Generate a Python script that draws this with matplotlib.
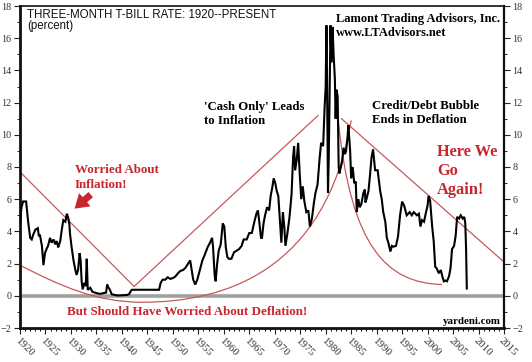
import matplotlib
matplotlib.use('Agg')
import matplotlib.pyplot as plt
from matplotlib.path import Path
from matplotlib.patches import PathPatch
from matplotlib.ticker import MultipleLocator

# ---- data: three-month T-bill rate (percent) ----
years = [1920.0, 1920.3, 1920.6, 1921.2, 1921.6, 1922.0, 1922.3, 1922.6, 1923.0, 1923.5,
         1923.7, 1923.9, 1924.3, 1924.6, 1924.9, 1925.2, 1925.5, 1925.9, 1926.2, 1926.6,
         1926.9, 1927.2, 1927.5, 1927.9, 1928.2, 1928.5, 1928.9, 1929.2, 1929.5, 1929.7,
         1929.8, 1930.1, 1930.5, 1930.8, 1931.1, 1931.4, 1931.7, 1931.9, 1932.1, 1932.3,
         1932.6, 1932.9, 1933.1, 1933.3, 1933.8, 1934.2, 1934.7, 1935.2, 1935.8, 1936.4,
         1936.9, 1937.1, 1937.3, 1937.6, 1938.0, 1938.6, 1939.2, 1939.8, 1940.5, 1941.0,
         1941.4, 1941.9, 1942.5, 1944.0, 1945.5, 1947.3, 1947.6, 1948.0, 1948.5, 1949.0,
         1949.5, 1950.0, 1950.5, 1951.0, 1951.5, 1952.0, 1952.5, 1953.0, 1953.4, 1953.7,
         1954.0, 1954.4, 1954.8, 1955.3, 1955.8, 1956.2, 1956.8, 1957.3, 1957.7, 1957.9,
         1958.2, 1958.4, 1958.7, 1959.0, 1959.4, 1959.8, 1960.1, 1960.4, 1960.7, 1961.0,
         1961.5, 1962.0, 1962.5, 1963.0, 1963.5, 1963.9, 1964.5, 1965.0, 1965.5, 1966.0,
         1966.4, 1966.7, 1967.0, 1967.3, 1967.5, 1967.8, 1968.1, 1968.5, 1968.9, 1969.2,
         1969.5, 1969.8, 1970.1, 1970.4, 1970.7, 1971.0, 1971.3, 1971.6, 1971.9, 1972.1,
         1972.5, 1972.9, 1973.3, 1973.6, 1973.8, 1974.0, 1974.3, 1974.6, 1974.9, 1975.2,
         1975.5, 1975.8, 1976.2, 1976.6, 1976.9, 1977.3, 1977.7, 1978.0, 1978.4, 1978.8,
         1979.1, 1979.5, 1979.8, 1980.0, 1980.15, 1980.25, 1980.4, 1980.45, 1980.6, 1980.75,
         1980.95, 1981.1, 1981.35, 1981.55, 1981.8, 1981.95, 1982.1, 1982.35, 1982.55, 1982.7,
         1982.9, 1983.2, 1983.5, 1983.8, 1984.0, 1984.3, 1984.45, 1984.8, 1985.0, 1985.3,
         1985.6, 1985.9, 1986.1, 1986.4, 1986.7, 1987.0, 1987.4, 1987.7, 1987.8, 1988.0,
         1988.4, 1988.7, 1989.0, 1989.3, 1989.7, 1990.2, 1990.7, 1991.0, 1991.3, 1991.7,
         1992.0, 1992.3, 1992.7, 1993.0, 1993.3, 1993.8, 1994.2, 1994.6, 1995.0, 1995.4,
         1995.9, 1996.2, 1996.5, 1996.9, 1997.3, 1997.6, 1997.9, 1998.3, 1998.6, 1998.9,
         1999.3, 1999.7, 2000.0, 2000.2, 2000.5, 2000.9, 2001.2, 2001.5, 2001.8, 2002.2,
         2002.6, 2002.9, 2003.2, 2003.5, 2003.8, 2004.2, 2004.5, 2004.8, 2005.2, 2005.5,
         2005.8, 2006.2, 2006.5, 2006.9, 2007.2, 2007.4, 2007.55, 2007.7]
rates = [4.5, 5.5, 5.86, 5.86, 4.6, 3.6, 3.5, 3.8, 4.1, 4.2,
         3.7, 3.8, 3.1, 1.9, 2.65, 2.9, 3.1, 3.6, 3.3, 3.5,
         3.2, 3.4, 3.0, 3.4, 4.1, 4.7, 4.6, 5.1, 4.8, 4.4,
         3.9, 3.1, 2.2, 1.7, 1.3, 1.6, 2.65, 2.2, 0.9, 0.4,
         0.8, 0.6, 2.3, 0.37, 0.5, 0.25, 0.2, 0.15, 0.12, 0.17,
         0.2, 0.7, 0.55, 0.4, 0.1, 0.05, 0.02, 0.03, 0.04, 0.05,
         0.1, 0.37, 0.375, 0.375, 0.375, 0.375, 0.8, 1.0, 1.0, 1.15,
         1.05, 1.1, 1.2, 1.4, 1.55, 1.6, 1.75, 2.0, 2.2, 1.6,
         1.0, 0.7, 1.0, 1.6, 2.2, 2.5, 3.0, 3.3, 3.6, 3.0,
         1.3, 0.9, 2.0, 2.8, 3.2, 4.5, 4.3, 3.0, 2.4, 2.3,
         2.3, 2.7, 2.8, 2.9, 3.1, 3.5, 3.5, 3.9, 3.9, 4.6,
         5.1, 5.3, 4.5, 3.6, 3.6, 4.5, 5.0, 5.5, 5.3, 6.2,
         6.7, 7.3, 7.0, 6.5, 6.2, 4.8, 3.3, 5.2, 4.2, 3.1,
         3.9, 4.9, 6.3, 8.6, 9.3, 7.8, 8.4, 9.5, 7.6, 6.0,
         6.8, 5.9, 5.2, 5.3, 4.3, 4.8, 5.8, 6.4, 6.9, 8.5,
         9.5, 9.3, 11.8, 13.0, 16.8, 14.0, 8.5, 6.4, 8.5, 12.0,
         16.8, 14.5, 16.7, 15.0, 13.5, 11.0, 12.8, 12.4, 8.0, 7.6,
         7.9, 8.3, 9.2, 8.8, 9.0, 9.9, 10.6, 9.0, 7.3, 8.0,
         7.0, 7.1, 5.2, 6.0, 5.5, 5.7, 6.4, 6.6, 5.8, 6.0,
         6.5, 7.5, 8.6, 9.1, 7.8, 7.8, 6.5, 6.0, 5.2, 4.6,
         3.6, 3.3, 2.75, 3.1, 3.05, 3.1, 3.7, 5.0, 5.85, 5.6,
         5.0, 5.1, 5.2, 5.0, 5.2, 5.1, 5.0, 5.1, 4.3, 4.7,
         4.6, 5.2, 5.6, 6.2, 5.9, 4.3, 3.4, 1.8, 1.7, 1.4,
         1.6, 1.2, 0.9, 0.95, 0.9, 1.2, 1.7, 2.9, 3.1, 3.7,
         4.9, 4.8, 5.0, 4.8, 4.9, 4.5, 3.0, 0.45]

x_ticks = list(range(1920, 2016, 5))
y_ticks = list(range(-2, 19, 2))

# ---- hand-drawn trend annotations ----
v_line_years = [1920.0, 1942.4, 1978.5]
v_line_vals = [7.7, 0.58, 11.2]
down_line_years = [1983.1, 2015.0]
down_line_vals = [11.0, 2.1]
bottom_curve = [(1920, 1.9), (1928, 0.6), (1935, -0.4), (1944, -0.4),
                (1960, -0.4), (1980, 1.5), (1985, 10.9)]
right_curve = [(1982.5, 10.8), (1985, 3.0), (1992, 0.8), (2002.8, 0.7)]

RED_LINE = '#c8585a'
RED_TEXT = '#c9252c'
W, H = 532, 362

fig = plt.figure(figsize=(W / 100, H / 100), dpi=100)
ax = fig.add_axes([20 / W, 34 / H, 484 / W, 322 / H])
ax.set_xlim(1920, 2015)
ax.set_ylim(-2, 18)

ax.axhline(0, color='#a0a0a0', lw=2.6, zorder=1)
ax.plot(years, rates, color='black', lw=1.5, zorder=3, solid_joinstyle='miter')

ax.plot(v_line_years, v_line_vals, color=RED_LINE, lw=0.9, zorder=2)
ax.plot(down_line_years, down_line_vals, color=RED_LINE, lw=0.9, zorder=2)
codes = [Path.MOVETO] + [Path.CURVE4] * 6
ax.add_patch(PathPatch(Path(bottom_curve, codes), fill=False, edgecolor=RED_LINE, lw=0.9, zorder=2))
codes = [Path.MOVETO] + [Path.CURVE4] * 3
ax.add_patch(PathPatch(Path(right_curve, codes), fill=False, edgecolor=RED_LINE, lw=0.9, zorder=2))

# arrow
ax.annotate('', xy=(1930.3, 5.3), xytext=(1934.3, 6.4),
            arrowprops=dict(arrowstyle='simple,head_width=0.9,head_length=0.7,tail_width=0.35',
                            color=RED_TEXT, lw=0, mutation_scale=14), zorder=4)

# axes styling
for side, lw in [('left', 2.0), ('bottom', 2.0), ('right', 1.6), ('top', 1.2)]:
    ax.spines[side].set_linewidth(lw)
    ax.spines[side].set_color('#111111')
ax.set_xticks(x_ticks)
ax.set_yticks(y_ticks)
ax.xaxis.set_minor_locator(MultipleLocator(1))
ax.yaxis.set_minor_locator(MultipleLocator(1))
ax.tick_params(axis='y', which='both', left=True, right=True, labelleft=True,
               labelright=True, direction='out', colors='#222222', labelcolor='#333333')
ax.tick_params(axis='y', which='major', length=4.5, width=0.8, pad=1.5, labelsize=7.3)
ax.tick_params(axis='y', which='minor', length=2.5, width=0.7)
ax.tick_params(axis='x', which='major', length=4, width=0.8, pad=2, labelsize=7.8,
               colors='#222222', labelcolor='#333333')
ax.tick_params(axis='x', which='minor', length=2.5, width=0.7)
for lab in ax.get_yticklabels():
    lab.set_family('Liberation Serif')
for lab in ax.get_xticklabels():
    lab.set_family('Liberation Serif')
    lab.set_rotation(-45)
    lab.set_ha('left')
    lab.set_va('top')
    lab.set_rotation_mode('anchor')


def ftext(px, py, s, **kw):
    fig.text(px / W, 1 - py / H, s, **kw)


ftext(27, 15, 'THREE-MONTH T-BILL RATE: 1920--PRESENT', family='Liberation Sans',
      fontsize=8.3, va='center', color='#111111')
ftext(27, 26, '(percent)', family='Liberation Sans', fontsize=8.3, va='center', color='#111111')
serif_b = dict(family='Liberation Serif', weight='bold')
FS = 9.2
ftext(336, 19, 'Lamont Trading Advisors, Inc.', fontsize=9.0, va='center', **serif_b)
ftext(336, 33, 'www.LTAdvisors.net', fontsize=9.0, va='center', **serif_b)
ftext(204, 107, "'Cash Only' Leads", fontsize=FS, va='center', **serif_b)
ftext(204, 121, 'to Inflation', fontsize=FS, va='center', **serif_b)
ftext(372, 106, 'Credit/Debt Bubble', fontsize=FS, va='center', **serif_b)
ftext(372, 120, 'Ends in Deflation', fontsize=FS, va='center', **serif_b)
ftext(437, 152, 'Here We', fontsize=11.8, va='center', color=RED_TEXT, **serif_b)
ftext(437, 171, 'Go', fontsize=11.8, va='center', color=RED_TEXT, **serif_b)
ftext(437, 190, 'Again!', fontsize=11.8, va='center', color=RED_TEXT, **serif_b)
ftext(75, 170, 'Worried About', fontsize=9.4, va='center', color=RED_TEXT, **serif_b)
ftext(75, 185, 'Inflation!', fontsize=9.4, va='center', color=RED_TEXT, **serif_b)
ftext(67, 312, 'But Should Have Worried About Deflation!', fontsize=9.4, va='center',
      color=RED_TEXT, **serif_b)
ftext(443, 321, 'yardeni.com', fontsize=7.8, va='center', **serif_b)

fig.savefig('out.png', dpi=100)
